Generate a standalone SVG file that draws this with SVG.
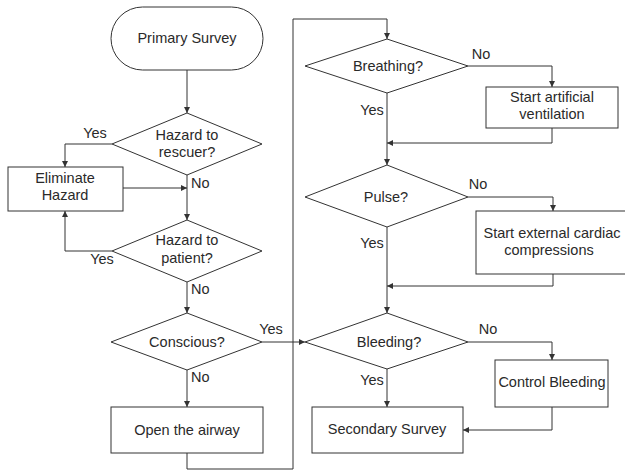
<svg xmlns="http://www.w3.org/2000/svg" width="625" height="470" viewBox="0 0 625 470">
<defs>
<style>
.shape{fill:#ffffff;stroke:#333333;stroke-width:1}
.conn{fill:none;stroke:#333333;stroke-width:1}
text{font-family:"Liberation Sans",Arial,sans-serif;font-size:14.5px;fill:#2a2a2a}
.c{text-anchor:middle}
</style>
<marker id="arr" markerUnits="userSpaceOnUse" markerWidth="7" markerHeight="7" refX="6" refY="3" orient="auto">
<path d="M0,0 L6,3 L0,6 z" fill="#333333"/>
</marker>
</defs>
<rect width="625" height="470" fill="#ffffff"/>
<g id="connectors">
<path class="conn" d="M187,70 V113" marker-end="url(#arr)"/>
<path class="conn" d="M112,144 H65 V167" marker-end="url(#arr)"/>
<path class="conn" d="M123,188 H187" marker-end="url(#arr)"/>
<path class="conn" d="M187,175 V220" marker-end="url(#arr)"/>
<path class="conn" d="M112,251 H65 V211" marker-end="url(#arr)"/>
<path class="conn" d="M187,282 V313" marker-end="url(#arr)"/>
<path class="conn" d="M262,342 H305" marker-end="url(#arr)"/>
<path class="conn" d="M187,370 V407" marker-end="url(#arr)"/>
<path class="conn" d="M187,453 V469 H293 V19 H387 V39" marker-end="url(#arr)"/>
<path class="conn" d="M468,66 H552 V87" marker-end="url(#arr)"/>
<path class="conn" d="M552,128 V143 H387" marker-end="url(#arr)"/>
<path class="conn" d="M387,93 V165" marker-end="url(#arr)"/>
<path class="conn" d="M468,197 H553 V211" marker-end="url(#arr)"/>
<path class="conn" d="M553,274 V286 H387" marker-end="url(#arr)"/>
<path class="conn" d="M387,227 V313" marker-end="url(#arr)"/>
<path class="conn" d="M468,342 H552 V360" marker-end="url(#arr)"/>
<path class="conn" d="M552,407 V430 H463" marker-end="url(#arr)"/>
<path class="conn" d="M387,369 V407" marker-end="url(#arr)"/>
<text x="95" y="138" class="c">Yes</text>
<text x="191" y="188">No</text>
<text x="102" y="264" class="c">Yes</text>
<text x="191" y="294">No</text>
<text x="271" y="334" class="c">Yes</text>
<text x="191" y="382">No</text>
<text x="481" y="59" class="c">No</text>
<text x="372" y="115" class="c">Yes</text>
<text x="478" y="189" class="c">No</text>
<text x="372" y="248" class="c">Yes</text>
<text x="488" y="334" class="c">No</text>
<text x="372" y="385" class="c">Yes</text>
</g>
<g id="primary-survey">
<rect class="shape" x="111" y="7" width="152" height="63" rx="31.5" ry="31.5"/>
<text x="187" y="43" class="c">Primary Survey</text>
</g>
<g id="hazard-rescuer">
<polygon class="shape" points="187,113 262,144 187,175 112,144"/>
<text x="187" y="140" class="c">Hazard to</text>
<text x="187" y="157" class="c">rescuer?</text>
</g>
<g id="eliminate-hazard">
<rect class="shape" x="8" y="167" width="115" height="44"/>
<text x="65" y="183" class="c">Eliminate</text>
<text x="65" y="200" class="c">Hazard</text>
</g>
<g id="hazard-patient">
<polygon class="shape" points="187,220 262,251 187,282 112,251"/>
<text x="187" y="245" class="c">Hazard to</text>
<text x="187" y="263" class="c">patient?</text>
</g>
<g id="conscious">
<polygon class="shape" points="187,313 262,342 187,370 111,342"/>
<text x="187" y="347" class="c">Conscious?</text>
</g>
<g id="open-airway">
<rect class="shape" x="111" y="407" width="152" height="46"/>
<text x="187" y="435" class="c">Open the airway</text>
</g>
<g id="breathing">
<polygon class="shape" points="387,39 468,66 387,93 305,66"/>
<text x="388" y="71" class="c">Breathing?</text>
</g>
<g id="artificial-ventilation">
<rect class="shape" x="486" y="87" width="132" height="41"/>
<text x="552" y="102" class="c">Start artificial</text>
<text x="552" y="119" class="c">ventilation</text>
</g>
<g id="pulse">
<polygon class="shape" points="387,165 468,197 387,227 305,197"/>
<text x="386" y="202" class="c">Pulse?</text>
</g>
<g id="cardiac-compressions">
<rect class="shape" x="476" y="211" width="152" height="63"/>
<text x="552" y="238" class="c">Start external cardiac</text>
<text x="549" y="255" class="c">compressions</text>
</g>
<g id="bleeding">
<polygon class="shape" points="387,313 468,342 387,369 305,342"/>
<text x="389" y="347" class="c">Bleeding?</text>
</g>
<g id="control-bleeding">
<rect class="shape" x="495" y="360" width="113" height="47"/>
<text x="552" y="387" class="c">Control Bleeding</text>
</g>
<g id="secondary-survey">
<rect class="shape" x="312" y="407" width="151" height="46"/>
<text x="387" y="434" class="c">Secondary Survey</text>
</g>
</svg>
